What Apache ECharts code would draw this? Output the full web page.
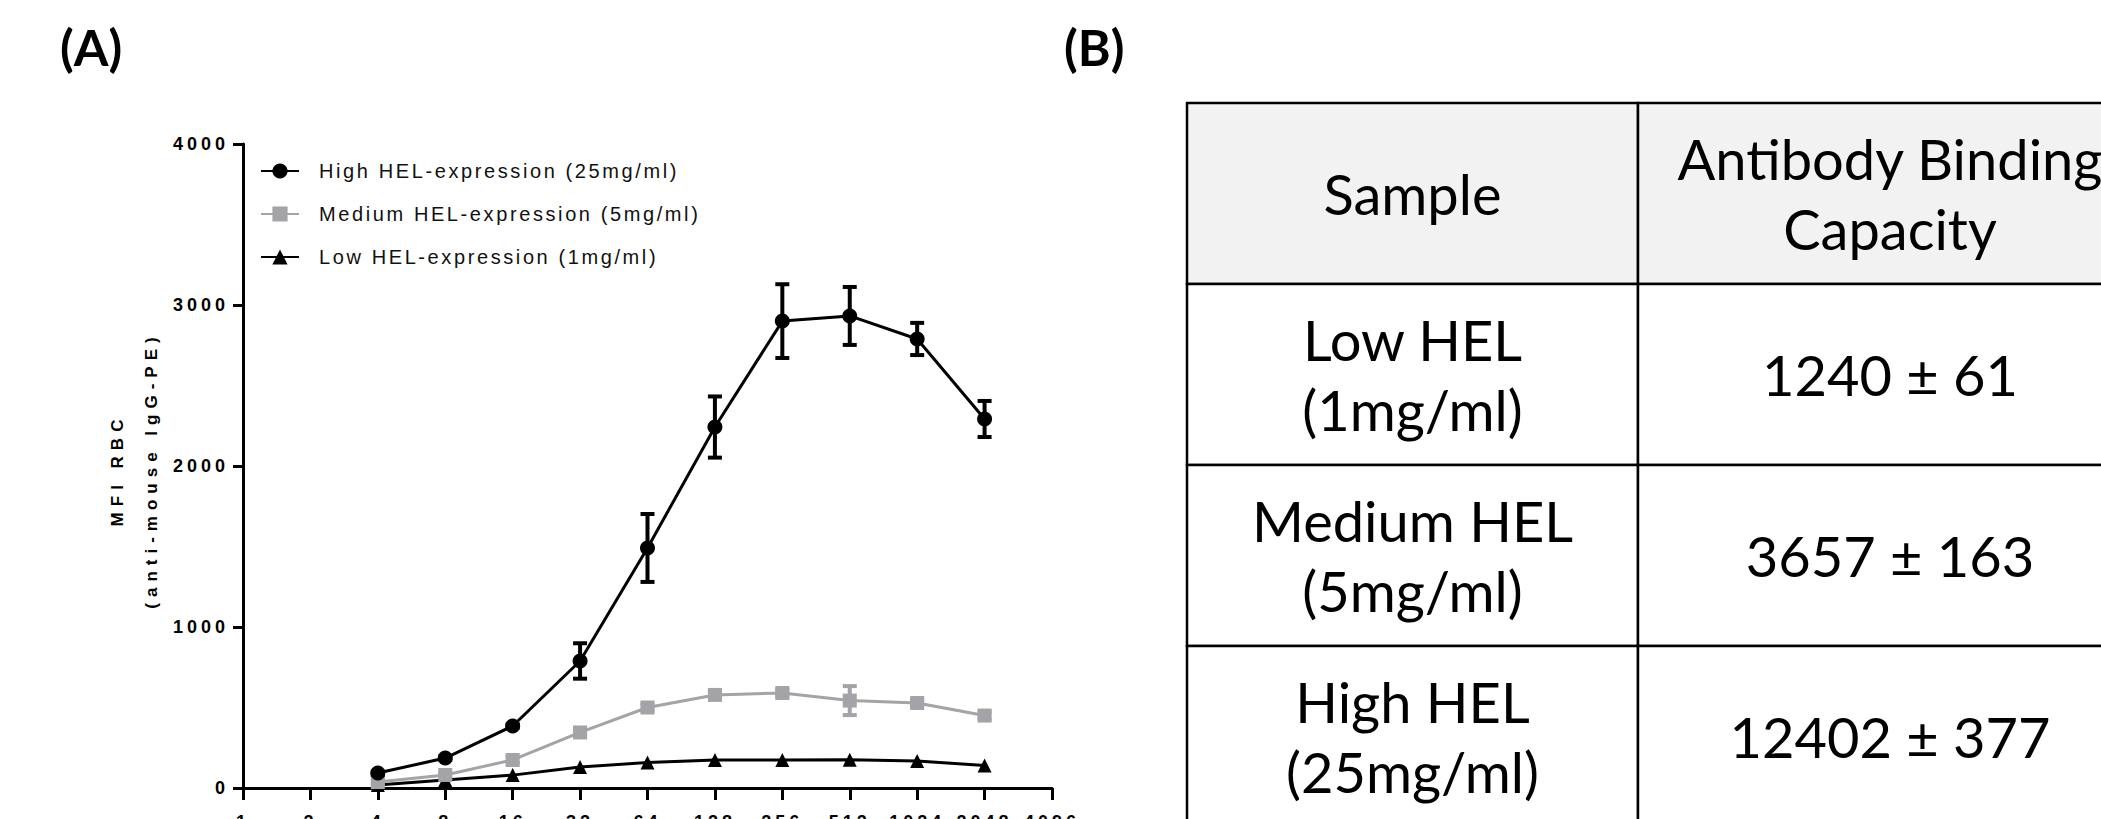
<!DOCTYPE html>
<html>
<head>
<meta charset="utf-8">
<script src="https://cdn.jsdelivr.net/npm/echarts@6/dist/echarts.min.js"></script>
<style>
  html, body { margin: 0; padding: 0; background: #fff; overflow: hidden; }
  #main { width: 2101px; height: 819px; }
  /* Prism-style spaced lettering (svg text) */
  #main text[style*="20px"] { letter-spacing: 2.6px; }
  #main text[style*="18px"] { letter-spacing: 4px; }
  #main text[style*="17px"] { letter-spacing: 6px; }
</style>
</head>
<body>
<div id="main"></div>
<script>
// dilution factors on the x axis
const dilutions = ['1', '2', '4', '8', '16', '32', '64', '128', '256', '512', '1024', '2048', '4096'];

const seriesNames = [
  'High HEL-expression (25mg/ml)',
  'Medium HEL-expression (5mg/ml)',
  'Low HEL-expression (1mg/ml)'
];

// MFI RBC (mean) and error bar half-lengths
const highMean = [null, null, 93, 186, 385, 789, 1491, 2242, 2900, 2932, 2789, 2292, null];
const highErr = [null, null, 10, 10, 10, 110, 211, 190, 229, 180, 100, 112, null];
const mediumMean = [null, null, 37, 81, 174, 345, 500, 578, 590, 543, 528, 450, null];
const mediumErr = [null, null, 10, 15, 20, 20, 20, 20, 20, 90, 20, 20, null];
const lowMean = [null, null, 19, 50, 80, 130, 158, 174, 174, 176, 168, 140, null];

// table of panel (B)
const tableHeader = ['Sample', 'Antibody Binding\nCapacity'];
const tableSamples = ['Low HEL\n(1mg/ml)', 'Medium HEL\n(5mg/ml)', 'High HEL\n(25mg/ml)'];
const tableABC = ['1240 ± 61', '3657 ± 163', '12402 ± 377'];

const BLACK = '#000';
const GREY = '#a3a3a8';
const tickFont = { fontFamily: 'Liberation Sans', fontWeight: 'bold', fontSize: 18, color: '#000' };

function errorBars(mean, err) {
  return mean
    .map((m, i) => (m == null ? null : [i, m, err[i]]))
    .filter((d) => d !== null);
}

function renderErrorBar(color) {
  return function (params, api) {
    const i = api.value(0);
    const top = api.coord([i, api.value(1) + api.value(2)]);
    const bot = api.coord([i, api.value(1) - api.value(2)]);
    const half = 7;
    const style = { stroke: color, lineWidth: 4, fill: null };
    return {
      type: 'group',
      children: [
        { type: 'line', shape: { x1: top[0], y1: top[1], x2: bot[0], y2: bot[1] }, style: style },
        { type: 'line', shape: { x1: top[0] - half, y1: top[1], x2: top[0] + half, y2: top[1] }, style: style },
        { type: 'line', shape: { x1: bot[0] - half, y1: bot[1], x2: bot[0] + half, y2: bot[1] }, style: style }
      ]
    };
  };
}

// table geometry
const tableLeft = 1187;
const tableTop = 103;
const colWidths = [451, 504];
const rowHeight = 181;
const tableFont = { fontFamily: 'Lato', fontSize: 56, lineHeight: 70 };

function buildTable() {
  const rows = [tableHeader].concat(tableSamples.map((s, i) => [s, tableABC[i]]));
  const els = [];
  rows.forEach((row, r) => {
    let x = tableLeft;
    row.forEach((txt, c) => {
      const y = tableTop + r * rowHeight;
      els.push({
        type: 'rect',
        shape: { x: x, y: y, width: colWidths[c], height: rowHeight },
        style: { fill: r === 0 ? '#f2f2f2' : '#fff', stroke: '#000', lineWidth: 2.5 },
        z: 1
      });
      els.push({
        type: 'text',
        x: x + colWidths[c] / 2,
        y: y + rowHeight / 2,
        style: Object.assign({
          text: txt,
          fill: '#000',
          align: 'center',
          verticalAlign: 'middle',
          textAlign: 'center',
          textVerticalAlign: 'middle'
        }, tableFont),
        z: 2
      });
      x += colWidths[c];
    });
  });
  return els;
}

const panelLabelStyle = { fontFamily: 'Lato', fontWeight: 'bold', fontSize: 50, fill: '#000' };

const option = {
  animation: false,
  backgroundColor: '#fff',
  grid: { left: 243, right: 1049, top: 144, bottom: 31, outerBoundsMode: 'none', containLabel: false },
  legend: {
    orient: 'vertical',
    left: 255,
    top: 156,
    itemWidth: 38,
    itemHeight: 19,
    itemGap: 23,
    selectedMode: false,
    data: seriesNames,
    textStyle: { fontFamily: 'Liberation Sans', fontSize: 20, color: '#111', padding: [0, 0, 0, 15] }
  },
  xAxis: {
    type: 'category',
    data: dilutions,
    boundaryGap: false,
    axisLine: { lineStyle: { color: '#000', width: 3 } },
    axisTick: { interval: 0, length: 12, lineStyle: { color: '#000', width: 3 } },
    axisLabel: Object.assign({ interval: 0, margin: 25 }, tickFont),
    splitLine: { show: false }
  },
  yAxis: {
    type: 'value',
    min: 0,
    max: 4000,
    interval: 1000,
    name: 'MFI RBC\n(anti-mouse IgG-PE)',
    nameLocation: 'middle',
    nameRotate: 90,
    nameGap: 75,
    nameTextStyle: {
      fontFamily: 'Liberation Sans', fontWeight: 'bold', fontSize: 17, lineHeight: 34,
      color: '#000', padding: [0, 8, 0, 0]
    },
    axisLine: { show: true, lineStyle: { color: '#000', width: 3 } },
    axisTick: { show: true, length: 10, lineStyle: { color: '#000', width: 3 } },
    axisLabel: Object.assign({ margin: 14, formatter: (v) => String(v) }, tickFont),
    splitLine: { show: false }
  },
  series: [
    {
      name: seriesNames[0], type: 'line', data: highMean,
      symbol: 'circle', symbolSize: 15, color: BLACK,
      lineStyle: { width: 3, color: BLACK }, itemStyle: { color: BLACK }, z: 4
    },
    {
      name: seriesNames[1], type: 'line', data: mediumMean,
      symbol: 'rect', symbolSize: 14, color: GREY,
      lineStyle: { width: 3, color: GREY }, itemStyle: { color: GREY }, z: 3
    },
    {
      name: seriesNames[2], type: 'line', data: lowMean,
      symbol: 'triangle', symbolSize: 14, color: BLACK,
      lineStyle: { width: 3, color: BLACK }, itemStyle: { color: BLACK }, z: 2
    },
    {
      name: 'High error', type: 'custom', data: errorBars(highMean, highErr),
      encode: { x: 0, y: 1 }, renderItem: renderErrorBar(BLACK), z: 5
    },
    {
      name: 'Medium error', type: 'custom', data: errorBars(mediumMean, mediumErr),
      encode: { x: 0, y: 1 }, renderItem: renderErrorBar(GREY), z: 3
    }
  ],
  graphic: [
    { type: 'text', left: 60, top: 22, style: Object.assign({ text: '(A)' }, panelLabelStyle) },
    { type: 'text', left: 1064, top: 22, style: Object.assign({ text: '(B)' }, panelLabelStyle) }
  ].concat(buildTable())
};

const chart = echarts.init(document.getElementById('main'), null, { renderer: 'svg' });
chart.setOption(option);
</script>
</body>
</html>
